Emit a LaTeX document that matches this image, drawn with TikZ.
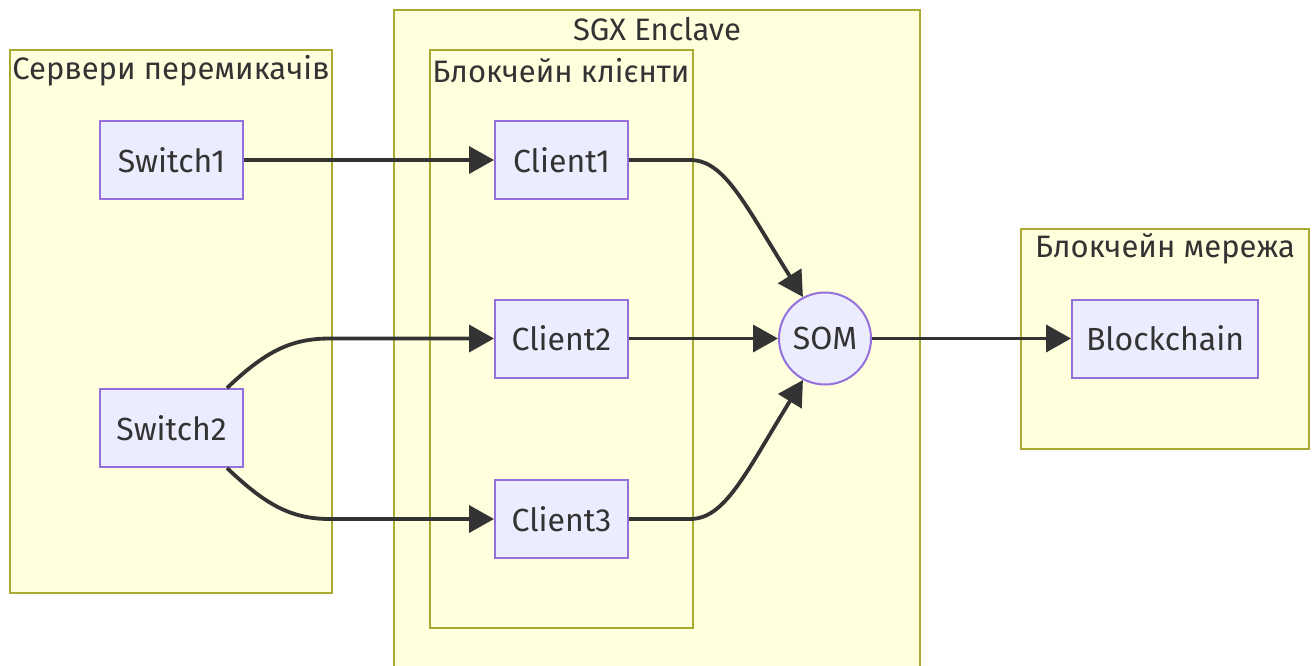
\documentclass[tikz,border=0pt]{standalone}
\usepackage{fontspec}
\setmainfont{Fira Sans}
\usetikzlibrary{arrows.meta}
\definecolor{clfill}{HTML}{FFFFDE}
\definecolor{clstroke}{HTML}{AAAA33}
\definecolor{ndfill}{HTML}{ECECFF}
\definecolor{ndstroke}{HTML}{9370DB}
\definecolor{edge}{HTML}{333333}
\definecolor{txt}{HTML}{333333}
\tikzset{
  cluster/.style={draw=clstroke, fill=clfill, line width=2pt},
  ctitle/.style={text=txt, font=\fontsize{31}{36}\selectfont, inner sep=0pt, anchor=center},
  box/.style={draw=ndstroke, fill=ndfill, line width=2pt, text=txt, font=\fontsize{32}{38}\selectfont,
    minimum height=78pt, inner sep=0pt},
  som/.style={circle, draw=ndstroke, fill=ndfill, line width=2pt, text=txt, font=\fontsize{32}{38}\selectfont,
    minimum size=92pt, inner sep=0pt},
  link/.style={draw=edge, line width=3.8pt, -{Triangle[length=25pt,width=27pt]}}
}
\begin{document}
\begin{tikzpicture}[x=1pt,y=-1pt]
\useasboundingbox (0,0) rectangle (1316,665);
\clip (0,0) rectangle (1316,665);
\fill[white] (0,0) rectangle (1316,665);
% clusters
\draw[cluster] (10,50) rectangle (332,593);
\node[ctitle] (t1) at (171,71) {Сервери перемикачів};
\draw[cluster] (394,10) rectangle (920,680);
\node[ctitle] (t2) at (657,29) {SGX Enclave};
\draw[cluster] (430,50) rectangle (693,628);
\node[ctitle] (t3) at (561,71) {Блокчейн клієнти};
\draw[cluster] (1021,229) rectangle (1309,449);
\node[ctitle] (t4) at (1165,249) {Блокчейн мережа};
% nodes
\node[box, minimum width=143pt] (s1) at (171.5,160) {Switch1};
\node[box, minimum width=143pt] (s2) at (171.5,428) {Switch2};
\node[box, minimum width=133pt] (c1) at (561.5,160) {Client1};
\node[box, minimum width=133pt] (c2) at (561.5,338.5) {Client2};
\node[box, minimum width=133pt] (c3) at (561.5,519) {Client3};
\node[som] (som) at (825,338.5) {SOM};
\node[box, minimum width=186pt] (bc) at (1165,338.5) {Blockchain};
% edges
\draw[link] (s1.east) -- (c1.west);
\draw[link] (s2.north east) ++(-17,0) coordinate (s2a)
  (s2a) .. controls (265,352) and (290,338.5) .. (330,338.5) -- (c2.west);
\draw[link] (s2.south east) ++(-17,0) coordinate (s2b)
  (s2b) .. controls (265,504) and (290,519) .. (330,519) -- (c3.west);
\draw[link] (c1.east) -- (690,160) .. controls (725,160) and (745,205) .. (som.118);
\draw[link] (c2.east) -- (som.west);
\draw[link] (c3.east) -- (690,519) .. controls (725,519) and (745,474) .. (som.-118);
\draw[link] (som.east) -- (bc.west);
\end{tikzpicture}
\end{document}
